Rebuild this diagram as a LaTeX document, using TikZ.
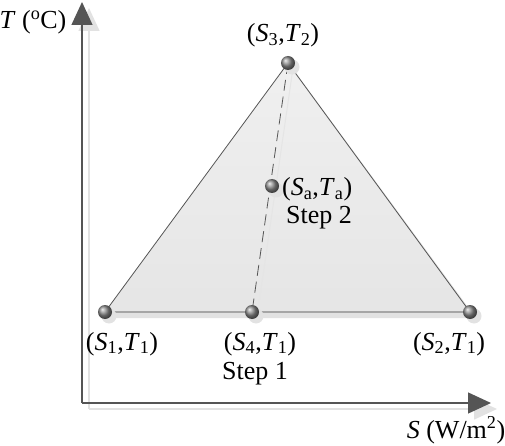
\documentclass[tikz,border=0pt]{standalone}
\usepackage{fontspec}
\setmainfont{Liberation Serif}
\usetikzlibrary{arrows.meta,shadings}
\newcommand\symsub[2]{\textit{#1}\textsubscript{#2}}
\definecolor{axisgray}{HTML}{555555}
\definecolor{shadowgray}{HTML}{E2E2E2}
\tikzset{
  axisline/.style={draw=axisgray, line width=1.3pt, -{Triangle[length=23pt,width=21pt]}},
  axisshadow/.style={draw=shadowgray, line width=1.6pt, -{Triangle[length=23pt,width=21pt]}},
  ptball/.style={circle, minimum size=14pt, inner sep=0pt, ball color=gray!90, shading=ball},
  ptshadow/.style={circle, minimum size=15pt, inner sep=0pt, fill=shadowgray},
  lbl/.style={font=\fontsize{26}{28}\selectfont, inner sep=0pt, anchor=base},
  edge/.style={draw=axisgray, line width=0.8pt},
}
\begin{document}
\begin{tikzpicture}[x=1pt,y=-1pt]
\useasboundingbox (0,0) rectangle (505,446);
% axes shadows
\coordinate (oS) at (89,409);
\coordinate (ytipS) at (89,8);
\coordinate (xtipS) at (497,409);
\draw[axisshadow] (oS) -- (ytipS);
\draw[axisshadow] (oS) -- (xtipS);
% axes
\coordinate (o) at (82,403);
\coordinate (ytip) at (82,2);
\coordinate (xtip) at (491,403);
\draw[axisline] (o) -- (ytip);
\draw[axisline] (o) -- (xtip);
% triangle shadow
\coordinate (s1s) at (110,318);
\coordinate (s2s) at (476,318);
\coordinate (s3s) at (293,69);
\fill[shadowgray] (s1s) -- (s3s) -- (s2s) -- cycle;
% triangle
\coordinate (s1) at (105,312);
\coordinate (s2) at (470,312);
\coordinate (s3) at (288,63);
\shade[top color=gray!12, bottom color=gray!20] (s1) -- (s3) -- (s2) -- cycle;
\draw[edge] (s1) -- (s3) -- (s2);
\draw[draw=gray!70, line width=1.6pt] (s1) -- (s2);
% dashed line
\coordinate (s4) at (252,312);
\draw[draw=white!80!gray, line width=1pt] (293,68) -- (257,317);
\draw[axisgray, dashed, dash pattern=on 11pt off 6pt, line width=0.8pt] (s3) -- (s4);
% points
\foreach \n/\x/\y in {A/105/312, B/470/312, C/288/63, D/252/312, E/272/186}{
  \node[ptshadow] at (\x+4,\y+4) {};
  \node[ptball] (\n) at (\x,\y) {};
}
% labels
\node[lbl] (lT) at (33,29) {\textit{T} (\textsuperscript{o}C)};
\node[lbl] (lS) at (456,438) {\textit{S} (W/m\textsuperscript{2})};
\node[lbl] (lC) at (283,42) {(\symsub{S}{3},\symsub{T}{2})};
\node[lbl, anchor=base west] (lE) at (282,196) {(\symsub{S}{a},\symsub{T}{a})};
\node[lbl, anchor=base west] (lE2) at (286,223) {Step 2};
\node[lbl] (lA) at (122,350) {(\symsub{S}{1},\symsub{T}{1})};
\node[lbl] (lD) at (260,350) {(\symsub{S}{4},\symsub{T}{1})};
\node[lbl] (lD2) at (255,379) {Step 1};
\node[lbl] (lB) at (449,350) {(\symsub{S}{2},\symsub{T}{1})};
\end{tikzpicture}
\end{document}
